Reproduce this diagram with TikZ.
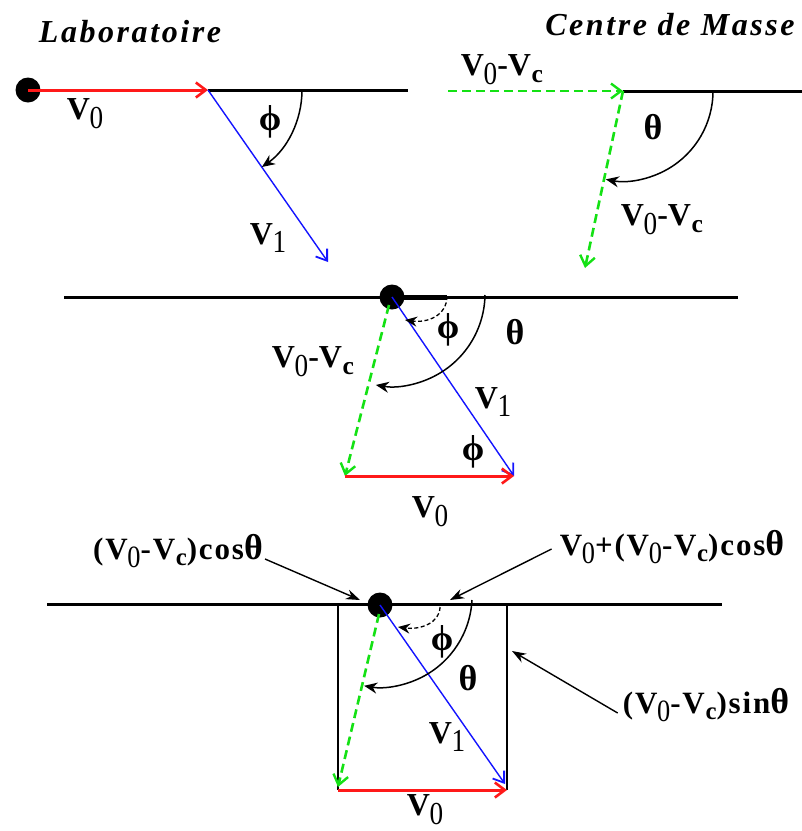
\documentclass[tikz,border=0pt]{standalone}
\usepackage{fontspec}
\setmainfont{Liberation Serif}
\usetikzlibrary{arrows.meta}
\definecolor{vred}{RGB}{255,25,25}
\definecolor{vblue}{RGB}{20,20,255}
\definecolor{vgreen}{RGB}{20,225,20}
\newcommand\Vz{V\kern-0.01em\raisebox{-0.28em}{\scalebox{0.85}[1]{\mdseries 0}}}
\newcommand\Vcc{V\kern0.02em\raisebox{-0.2em}{\scalebox{0.8}{c}}}
\newcommand\VV{V\kern-0.01em\raisebox{-0.28em}{\scalebox{0.85}[1]{\mdseries 1}}}
\newcommand\Gphi{{\fontsize{36}{36}\selectfont ϕ}}
\newcommand\Gth{{\fontsize{36}{36}\selectfont θ}}
\begin{document}
\begin{tikzpicture}[x=1pt,y=-1pt,
  lbl/.style={font=\fontsize{32}{34}\selectfont\bfseries, inner sep=0pt},
  wlbl/.style={font=\fontsize{31}{33}\selectfont\bfseries\addfontfeature{LetterSpace=6}, inner sep=0pt},
  ttl/.style={font=\fontsize{32}{34}\selectfont\bfseries\itshape\addfontfeature{LetterSpace=8}, inner sep=0pt},
  axisline/.style={line width=3pt, black},
  redvec/.style={line width=3pt, vred, -{Straight Barb[length=10pt,width=15pt,line width=2.6pt]}},
  bluevec/.style={line width=1.4pt, vblue, -{Straight Barb[length=10pt,width=14pt,line width=1.8pt]}},
  greenvec/.style={line width=2.6pt, vgreen, dash pattern=on 9pt off 5pt, -{Straight Barb[length=10pt,width=15pt,line width=2.4pt]}},
  anglearc/.style={line width=1.5pt, black, -{Stealth[length=13pt,width=11pt]}},
  dashedarc/.style={line width=1.3pt, black, dash pattern=on 4pt off 2.5pt, -{Stealth[length=12pt,width=10pt]}},
  pointer/.style={line width=1.4pt, black, -{Stealth[length=14pt,width=10pt]}},
  edge/.style={line width=1.5pt, black},
  ball/.style={circle, fill=black, minimum size=25pt, inner sep=0pt}]
\useasboundingbox (0,0) rectangle (802,831);

% ---------- Laboratoire ----------
\node[ttl] (tlab) at (130,32) {Laboratoire};
\node[ball] (dA) at (28,90) {};
\coordinate (A) at (208,90);
\coordinate (Aend) at (408,90);
\coordinate (A1) at (328,262);
\draw[axisline] (A) -- (Aend);
\draw[redvec] (dA.center) -- (A);
\draw[bluevec] (A) -- (A1);
\draw[anglearc] ([xshift=94pt]A) arc[start angle=0,end angle=-55,radius=94pt];
\node[lbl] (lA0) at (85,114) {\Vz};
\node[lbl] (lAphi) at (270,122) {\Gphi};
\node[lbl] (lA1) at (268,238) {\VV};

% ---------- Centre de Masse ----------
\node[ttl] (tcm) at (670,25) {Centre de Masse};
\coordinate (B0) at (448,91);
\coordinate (B) at (623,91);
\coordinate (Bend) at (802,91);
\coordinate (B1) at (585,268);
\draw[axisline] (B) -- (Bend);
\draw[greenvec] (B0) -- (B);
\draw[greenvec] (B) -- (B1);
\draw[anglearc] ([xshift=90pt]B) arc[start angle=0,end angle=-101,radius=90pt];
\node[lbl] (lBa) at (502,70) {\Vz-\Vcc};
\node[lbl] (lBth) at (653,127) {\Gth};
\node[lbl] (lBb) at (662,220) {\Vz-\Vcc};

% ---------- middle ----------
\coordinate (C0) at (64,297);
\coordinate (C9) at (738,297);
\coordinate (Cs) at (447,297);
\coordinate (Cg) at (389,305);
\coordinate (CL) at (345,476);
\coordinate (CR) at (514,476);
\draw[axisline] (C0) -- (C9);
\node[ball] (dC) at (392,297) {};
\draw[line width=5pt] (dC.center) -- (Cs);
\draw[bluevec] (dC.center) -- (CR);
\draw[greenvec] (Cg) -- (CL);
\draw[redvec] (CL) -- (CR);
\draw[dashedarc] ([yshift=1pt]Cs) .. controls (447,316) and (427,323) .. (405,320);
\draw[anglearc] ([xshift=93pt,yshift=2pt]dC.center) arc[start angle=-1,end angle=-100,radius=93pt];
\node[lbl] (lCphi) at (448,330) {\Gphi};
\node[lbl] (lCth) at (515,332) {\Gth};
\node[lbl] (lCv) at (313,362) {\Vz-\Vcc};
\node[lbl] (lC1) at (493,402) {\VV};
\node[lbl] (lCphi2) at (473,452) {\Gphi};
\node[lbl] (lC0) at (430,512) {\Vz};

% ---------- bottom ----------
\coordinate (D0) at (47,604);
\coordinate (D9) at (722,604);
\coordinate (DLt) at (338,604);
\coordinate (DLb) at (338,790);
\coordinate (DRt) at (507,604);
\coordinate (DRb) at (507,790);
\coordinate (Dg) at (379,614);
\coordinate (DgE) at (338,787);
\coordinate (DbE) at (505,784);
\draw[axisline] (D0) -- (D9);
\draw[edge] (DLt) -- (DLb);
\draw[edge] (DRt) -- (DRb);
\node[ball] (dD) at (380,605) {};
\draw[bluevec] (dD.center) -- (DbE);
\draw[greenvec] (Dg) -- (DgE);
\draw[redvec] (DLb) -- (DRb);
\draw[dashedarc] (440,607) .. controls (440,623) and (420,630) .. (398,627);
\draw[anglearc] ([xshift=92pt,yshift=5pt]dD.center) arc[start angle=-3,end angle=-100,radius=92pt];
\node[lbl] (lDphi) at (442,642) {\Gphi};
\node[lbl] (lDth) at (468,678) {\Gth};
\node[lbl] (lD1) at (447,737) {\VV};
\node[lbl] (lD0) at (425,810) {\Vz};

\node[wlbl] (lcos) at (178,551) {(\Vz-\Vcc)cos\Gth};
\node[wlbl] (lsum) at (672,547) {\Vz+(\Vz-\Vcc)cos\Gth};
\node[wlbl] (lsin) at (706,705) {(\Vz-\Vcc)sin\Gth};
\coordinate (pcos) at (360,600);
\coordinate (psum) at (450,600);
\coordinate (psin) at (512,651);
\draw[pointer] ([xshift=2pt,yshift=-8pt]lcos.east) -- (pcos);
\draw[pointer] ([xshift=-8pt,yshift=-2pt]lsum.west) -- (psum);
\draw[pointer] ([xshift=-5pt,yshift=-8pt]lsin.west) -- (psin);
\end{tikzpicture}
\end{document}
